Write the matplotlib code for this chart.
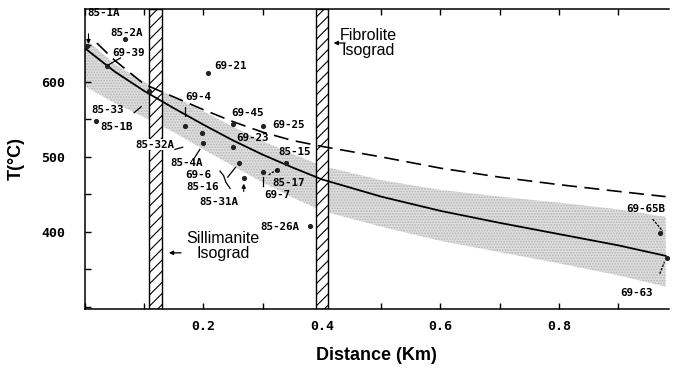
import matplotlib
matplotlib.use("Agg")
import matplotlib.pyplot as plt
from matplotlib.ticker import MultipleLocator, FixedLocator

plt.rcParams["hatch.linewidth"] = 0.8

# ---------------- data ----------------
# trend curves (Distance km, T degC)
curve_x = [0.0, 0.05, 0.1, 0.15, 0.2, 0.25, 0.3, 0.35, 0.4, 0.5, 0.6, 0.7, 0.8, 0.9, 0.98]
solid_T = [645, 614, 588, 565, 543, 522, 503, 486, 470, 447, 428, 412, 397, 382, 368]
band_upper = [658, 624, 600, 580, 561, 540, 521, 504, 488, 469, 456, 447, 439, 430, 420]
band_lower = [594, 572, 553, 533, 510, 488, 466, 446, 428, 407, 388, 373, 358, 342, 327]

dash_x = [0.02, 0.05, 0.1, 0.15, 0.2, 0.25, 0.3, 0.35, 0.4, 0.5, 0.6, 0.7, 0.8, 0.9, 0.98]
dash_T = [652, 629, 597, 580, 563, 547, 533, 522, 514, 500, 485, 473, 463, 454, 447]

# samples
samples = ["85-1A", "85-2A", "69-39", "85-33", "85-1B", "69-4", "85-32A", "85-4A",
           "69-21", "69-45", "69-23", "69-25", "69-6/85-16", "85-31A", "85-15",
           "69-7", "85-17", "85-26A", "69-65B", "69-63"]
sample_x = [0.004, 0.068, 0.038, 0.108, 0.018, 0.169, 0.198, 0.199,
            0.208, 0.250, 0.250, 0.300, 0.260, 0.268, 0.339,
            0.300, 0.324, 0.379, 0.971, 0.982]
sample_T = [648, 657, 621, 588, 548, 541, 532, 519,
            612, 544, 513, 541, 492, 472, 492,
            480, 483, 408, 399, 365]

# isograds (distance range of hatched zones)
sill_zone = (0.108, 0.130)
fib_zone = (0.390, 0.410)

x_ticks = [0.2, 0.4, 0.6, 0.8]
y_ticks = [400, 500, 600]

# label anchor positions (data coords) -- layout only
label_pos = {
    "85-1A": (0.031, 692), "85-2A": (0.070, 666), "69-39": (0.073, 639),
    "85-33": (0.038, 563), "85-1B": (0.053, 540), "69-4": (0.192, 580),
    "85-32A": (0.118, 516), "85-4A": (0.171, 492), "69-21": (0.246, 621),
    "69-45": (0.275, 559), "69-23": (0.283, 525), "69-25": (0.344, 543),
    "69-6": (0.191, 476), "85-16": (0.198, 460), "85-31A": (0.226, 440),
    "85-15": (0.354, 507), "69-7": (0.324, 449), "85-17": (0.343, 465),
    "85-26A": (0.329, 407), "69-65B": (0.947, 431), "69-63": (0.930, 319),
}

# ---------------- figure ----------------
fig = plt.figure(figsize=(6.74, 3.71), dpi=100)
ax = fig.add_axes([0.126, 0.167, 0.866, 0.81])
ax.set_xlim(0, 0.985)
ax.set_ylim(297, 698)

# grey uncertainty band (stippled)
ax.fill_between(curve_x, band_lower, band_upper, facecolor="#dedede",
                edgecolor="#b4b4b4", hatch="......", linewidth=0, zorder=1)

# hatched isograd zones
for lo, hi in (sill_zone, fib_zone):
    ax.axvspan(lo, hi, facecolor="white", edgecolor="black", hatch="///",
               linewidth=1.0, zorder=2)

# curves
ax.plot(curve_x, solid_T, color="black", lw=1.3, zorder=3)
ax.plot(dash_x, dash_T, color="black", lw=1.2, dashes=(9, 4.5), zorder=3)

# sample points
ax.plot(sample_x, sample_T, "o", color="#222222", ms=2.7, zorder=5)

mono = dict(family="DejaVu Sans Mono", fontsize=7.8, fontweight="bold")
for name, (lx, ly) in label_pos.items():
    bb = None
    if name == "85-32A":
        bb = dict(facecolor="white", edgecolor="none", pad=0.3)
    ax.text(lx, ly, name, ha="center", va="center", zorder=6, bbox=bb, **mono)

# leader lines / arrows (short marks)
def seg(x0, y0, x1, y1, **kw):
    ax.plot([x0, x1], [y0, y1], color="black", lw=0.9, zorder=6, **kw)

ax.annotate("", xy=(0.006, 647), xytext=(0.006, 668),
            arrowprops=dict(arrowstyle="-|>", lw=0.8, color="black",
                            mutation_scale=6), zorder=6)
seg(0.060, 632, 0.040, 623)            # 69-39
seg(0.083, 559, 0.095, 567)            # 85-33
seg(0.169, 566, 0.169, 554)            # 69-4
seg(0.152, 510, 0.165, 513)            # 85-32A
seg(0.185, 499, 0.194, 510)            # 85-4A
ax.plot([0.228, 0.234, 0.238, 0.245], [481, 475, 466, 458],
        color="black", lw=0.9, zorder=6)   # brace 69-6 / 85-16
seg(0.241, 473, 0.254, 486)
ax.annotate("", xy=(0.268, 468), xytext=(0.268, 450),
            arrowprops=dict(arrowstyle="-|>", lw=0.8, color="black",
                            mutation_scale=6), zorder=6)   # 85-31A
seg(0.300, 473, 0.300, 461)            # 69-7
seg(0.310, 476, 0.324, 483, ls=(0, (2, 1)))    # 85-17
seg(0.958, 417, 0.975, 401, ls=(0, (2, 1)))    # 69-65B
seg(0.970, 344, 0.978, 360, ls=(0, (2, 1)))    # 69-63

# isograd annotations
sans = "Liberation Sans"
ax.text(0.233, 381, "Sillimanite\nIsograd", ha="center", va="center",
        fontsize=11.5, family=sans, linespacing=1.05, zorder=6)
ax.annotate("", xy=(0.137, 372), xytext=(0.167, 372),
            arrowprops=dict(arrowstyle="-|>", lw=0.9, color="black",
                            mutation_scale=6), zorder=6)
ax.text(0.478, 652, "Fibrolite\nIsograd", ha="center", va="center",
        fontsize=11.5, family=sans, linespacing=1.05, zorder=6)
ax.annotate("", xy=(0.415, 652), xytext=(0.444, 652),
            arrowprops=dict(arrowstyle="-|>", lw=0.9, color="black",
                            mutation_scale=6), zorder=6)

# axes styling
ax.spines["right"].set_visible(False)
for s in ("left", "bottom", "top"):
    ax.spines[s].set_linewidth(1.1)
ax.xaxis.set_major_locator(FixedLocator(x_ticks))
ax.xaxis.set_minor_locator(MultipleLocator(0.1))
ax.yaxis.set_major_locator(FixedLocator(y_ticks))
ax.yaxis.set_minor_locator(MultipleLocator(50))
ax.tick_params(which="both", direction="in", top=True, right=False,
               length=4, width=1.0)
ax.tick_params(axis="x", pad=8)
ax.tick_params(axis="y", pad=14)
ax.set_xticklabels([f"{v:.1f}" for v in x_ticks])
ax.set_yticklabels([str(v) for v in y_ticks])
for lab in ax.get_xticklabels() + ax.get_yticklabels():
    lab.set_family("DejaVu Sans Mono")
    lab.set_fontweight("bold")
    lab.set_fontsize(9.5)

ax.set_xlabel("Distance (Km)", family=sans, fontweight="bold", fontsize=13,
              labelpad=10)
ax.set_ylabel("T(°C)", family=sans, fontweight="bold", fontsize=13,
              labelpad=12)

fig.savefig("out.png", dpi=100)
